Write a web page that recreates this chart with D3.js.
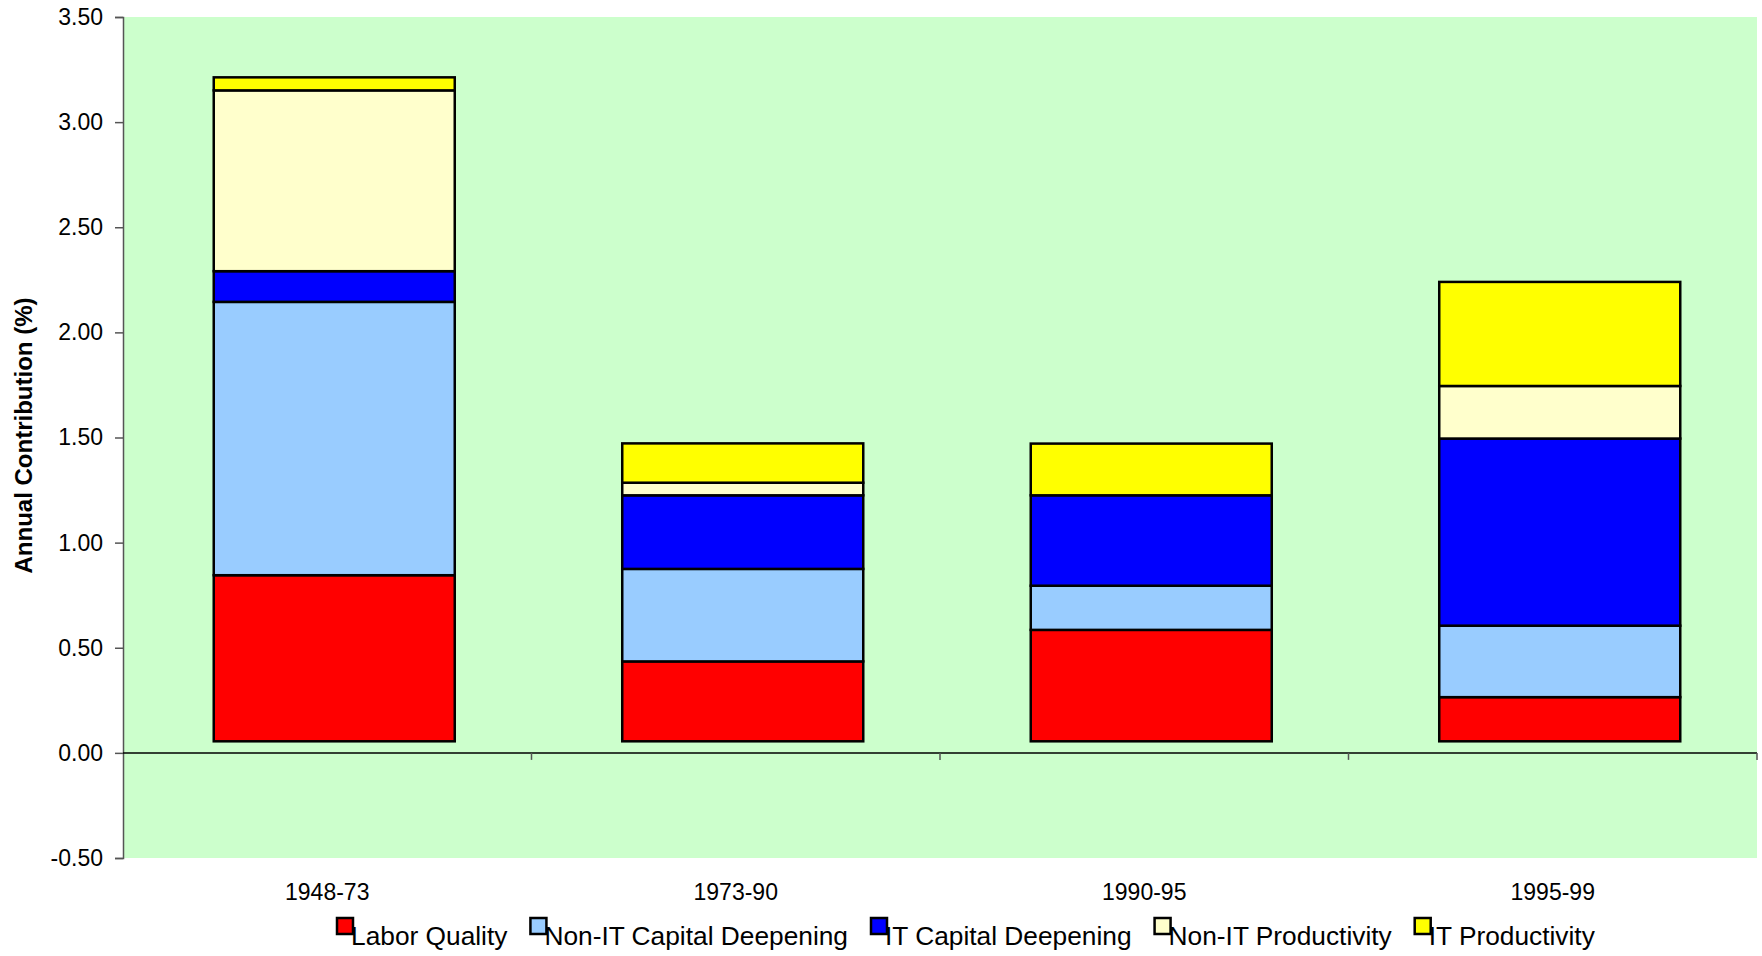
<html>
  <head>
    <meta charset="utf-8">
    <title>Annual Contribution</title>
    <script src="https://d3js.org/d3.v7.min.js"></script>
    <style>
      body { margin: 0; background: #fff; }
      text { font-family: 'Liberation Sans', Arial, sans-serif; fill: #000; }
    </style>
  </head>
  <body>
    <script>
      // data
      var periods = ["1948-73", "1973-90", "1990-95", "1995-99"];
      var seriesNames = ["Labor Quality", "Non-IT Capital Deepening", "IT Capital Deepening", "Non-IT Productivity", "IT Productivity"];
      var baseValues = [0.055, 0.055, 0.055, 0.055];
      var laborQuality = [0.79, 0.38, 0.53, 0.21];
      var nonITCapital = [1.30, 0.44, 0.21, 0.34];
      var itCapital = [0.146, 0.35, 0.43, 0.89];
      var nonITProductivity = [0.86, 0.06, 0.0, 0.25];
      var itProductivity = [0.062, 0.187, 0.246, 0.495];
      var yTicks = [-0.5, 0, 0.5, 1.0, 1.5, 2.0, 2.5, 3.0, 3.5];

      var colors = ["#FF0000", "#99CCFF", "#0000FF", "#FFFFCC", "#FFFF00"];
      var allSeries = [laborQuality, nonITCapital, itCapital, nonITProductivity, itProductivity];

      var width = 1762, height = 956;
      var plotLeft = 123, plotRight = 1757, plotTop = 17, plotBottom = 858;
      var barShift = 7;

      var svg = d3.select("body").append("svg")
        .attr("width", width)
        .attr("height", height);

      var x = d3.scaleBand()
        .domain(periods)
        .range([plotLeft, plotRight])
        .paddingInner(0.41)
        .paddingOuter(0.205);

      var y = d3.scaleLinear()
        .domain([-0.5, 3.5])
        .range([plotBottom, plotTop]);

      // plot background
      svg.append("rect")
        .attr("x", plotLeft).attr("y", plotTop)
        .attr("width", plotRight - plotLeft).attr("height", plotBottom - plotTop)
        .attr("fill", "#CCFFCC");

      // y axis (plain hyphen for negatives, like the original)
      var fmt = d3.format(".2f");
      var yAxis = svg.append("g")
        .attr("transform", "translate(" + plotLeft + ",0)")
        .call(d3.axisLeft(y).tickValues(yTicks)
          .tickFormat(function(d) { return fmt(d).replace("\u2212", "-"); })
          .tickSize(8).tickPadding(12));
      yAxis.select(".domain").attr("stroke", "#555").attr("stroke-width", 1.5);
      yAxis.selectAll(".tick line").attr("stroke", "#555").attr("stroke-width", 1.5);
      yAxis.selectAll("text").style("font-size", "23px").style("font-family", "'Liberation Sans', Arial, sans-serif");

      // stacked bars
      var rows = periods.map(function(p, i) {
        var o = { period: p };
        seriesNames.forEach(function(s, k) { o[s] = allSeries[k][i]; });
        return o;
      });
      var stacked = d3.stack().keys(seriesNames)(rows);

      svg.append("g").selectAll("g")
        .data(stacked)
        .enter().append("g")
        .attr("fill", function(d, k) { return colors[k]; })
        .selectAll("rect")
        .data(function(d) { return d; })
        .enter().append("rect")
        .attr("x", function(d) { return x(d.data.period) + barShift; })
        .attr("width", x.bandwidth())
        .attr("y", function(d, i) { return y(d[1] + baseValues[i]); })
        .attr("height", function(d, i) { return y(d[0] + baseValues[i]) - y(d[1] + baseValues[i]); })
        .attr("stroke", "#000")
        .attr("stroke-width", 2.5);

      // zero line with boundary ticks
      svg.append("line")
        .attr("x1", plotLeft).attr("x2", plotRight)
        .attr("y1", y(0)).attr("y2", y(0))
        .attr("stroke", "#000").attr("stroke-width", 1.5);
      svg.append("g").selectAll("line")
        .data(periods)
        .enter().append("line")
        .attr("x1", function(d) { return x(d) - x.step() * x.paddingInner() / 2 + x.step(); })
        .attr("x2", function(d) { return x(d) - x.step() * x.paddingInner() / 2 + x.step(); })
        .attr("y1", y(0)).attr("y2", y(0) + 7)
        .attr("stroke", "#555").attr("stroke-width", 1.5);

      // category labels
      svg.append("g").selectAll("text")
        .data(periods)
        .enter().append("text")
        .attr("x", function(d) { return x(d) + x.bandwidth() / 2; })
        .attr("y", 900)
        .attr("text-anchor", "middle")
        .style("font-size", "23px")
        .text(function(d) { return d; });

      // y axis title
      svg.append("text")
        .attr("transform", "translate(32," + ((plotTop + plotBottom) / 2 - 2) + ") rotate(-90)")
        .attr("text-anchor", "middle")
        .style("font-size", "24px")
        .style("font-weight", "bold")
        .text("Annual Contribution (%)");

      // legend
      var legend = svg.append("g");
      var lx = 337;
      seriesNames.forEach(function(s, k) {
        legend.append("rect")
          .attr("x", lx).attr("y", 918)
          .attr("width", 16).attr("height", 16)
          .attr("fill", colors[k])
          .attr("stroke", "#000").attr("stroke-width", 2.5);
        var t = legend.append("text")
          .attr("x", lx + 14).attr("y", 945)
          .style("font-size", "26.3px")
          .text(s);
        lx = lx + 14 + t.node().getComputedTextLength() + 23;
      });
    </script>
  </body>
</html>
